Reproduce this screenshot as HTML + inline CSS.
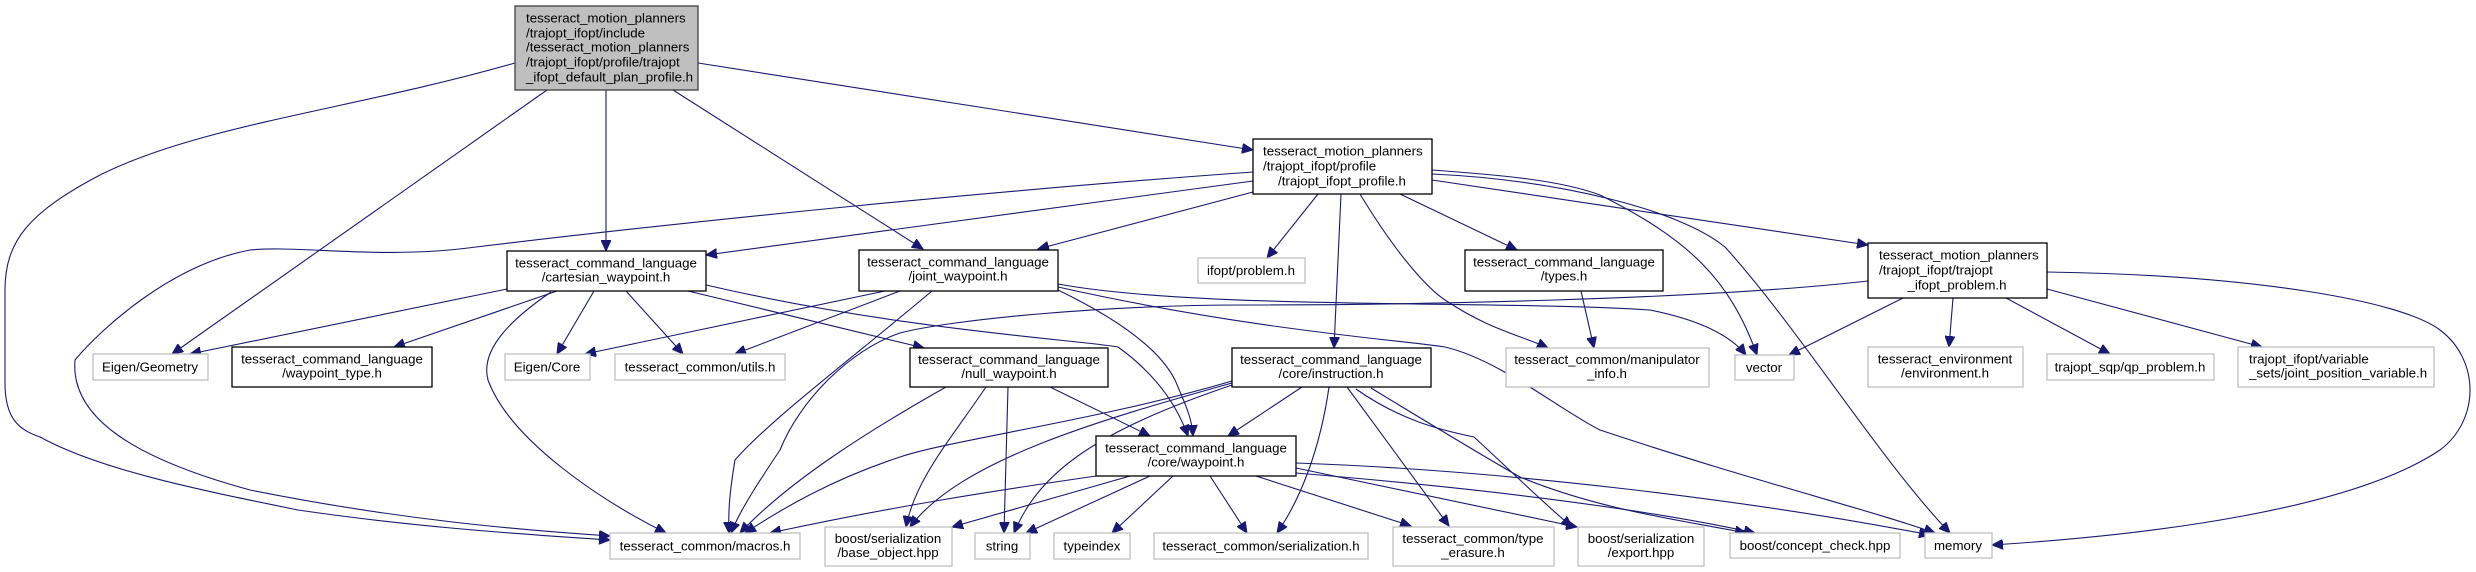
<!DOCTYPE html>
<html><head><meta charset="utf-8"><style>
html,body{margin:0;padding:0;background:#fff;}
svg{display:block;}
text{font-family:"Liberation Sans",sans-serif;font-size:13.3px;fill:#000;}
.e{fill:none;stroke:#191970;stroke-width:1.1;}
.g{fill:#fff;stroke:#bfbfbf;stroke-width:1.3;}
.b{fill:#fff;stroke:#000;stroke-width:1.3;}
</style></head><body>
<svg width="2476" height="572" viewBox="0 0 2476 572" xmlns="http://www.w3.org/2000/svg">
<defs><marker id="a" markerUnits="userSpaceOnUse" markerWidth="12" markerHeight="10" refX="11" refY="5" orient="auto"><path d="M0,0 L11,5 L0,10 z" fill="#191970" stroke="#191970"/></marker></defs>
<g marker-end="url(#a)">
<path class="e" d="M515,63 C350,110 200,125 100,175 C30,212 5,240 5,290 L5,383 C5,420 20,430 40,437 C100,470 200,490 298,510 C400,525 500,533 610,540"/>
<path class="e" d="M547,90 L172,354"/>
<path class="e" d="M606,90 L606,251"/>
<path class="e" d="M673,90 L923,249"/>
<path class="e" d="M698,63 L1253,150"/>
<path class="e" d="M1253,172 C1000,190 700,220 476,247 C380,260 300,245 250,250 C170,265 100,330 75,360 C70,420 140,460 250,490 C400,520 520,530 610,536"/>
<path class="e" d="M1253,181 L706,255"/>
<path class="e" d="M1253,192 L1038,249"/>
<path class="e" d="M1318,194 L1267,258"/>
<path class="e" d="M1341,194 L1334,348"/>
<path class="e" d="M1400,194 L1517,250"/>
<path class="e" d="M1360,194 C1400,260 1430,290 1445,300 C1490,330 1520,335 1548,348"/>
<path class="e" d="M1432,170 C1500,175 1560,180 1600,195 C1690,240 1730,280 1757,355"/>
<path class="e" d="M1432,174 C1560,180 1680,210 1725,247 C1800,330 1880,460 1950,533"/>
<path class="e" d="M1432,180 L1868,245"/>
<path class="e" d="M507,289 L190,354"/>
<path class="e" d="M557,291 L394,347"/>
<path class="e" d="M551,292 C510,320 480,350 488,380 C510,440 600,500 666,533"/>
<path class="e" d="M594,291 L557,354"/>
<path class="e" d="M626,291 L683,354"/>
<path class="e" d="M688,291 L924,348"/>
<path class="e" d="M706,285 C900,330 1080,340 1118,347 C1150,370 1175,400 1188,436"/>
<path class="e" d="M885,291 L585,354"/>
<path class="e" d="M900,291 L735,354"/>
<path class="e" d="M932,291 C850,360 770,420 735,460 C730,490 728,510 729,533"/>
<path class="e" d="M1058,290 C1120,320 1160,350 1175,380 C1188,410 1192,420 1193,436"/>
<path class="e" d="M1058,284 C1200,310 1500,300 1650,310 C1700,320 1730,335 1746,355"/>
<path class="e" d="M1058,287 C1250,330 1400,340 1445,347 C1500,360 1560,410 1600,430 C1750,480 1870,510 1935,533"/>
<path class="e" d="M1868,281 C1700,300 1400,305 1244,305 C1100,305 950,320 900,333 C850,350 800,400 780,450 C760,480 740,510 731,533"/>
<path class="e" d="M1903,298 L1789,355"/>
<path class="e" d="M1953,298 L1949,347"/>
<path class="e" d="M2006,298 L2110,354"/>
<path class="e" d="M2047,289 L2262,347"/>
<path class="e" d="M2047,272 C2250,275 2400,300 2440,330 C2480,360 2480,420 2440,450 C2350,510 2150,535 1992,545"/>
<path class="e" d="M1581,291 L1594,348"/>
<path class="e" d="M946,387 C870,430 790,480 740,533"/>
<path class="e" d="M986,387 C950,440 915,480 906,527"/>
<path class="e" d="M1008,387 L1004,533"/>
<path class="e" d="M1050,387 L1150,436"/>
<path class="e" d="M1232,381 C1100,420 950,440 900,457 C830,480 780,510 745,533"/>
<path class="e" d="M1232,383 C1100,420 960,460 910,527"/>
<path class="e" d="M1232,385 C1100,430 1040,470 1014,533"/>
<path class="e" d="M1302,387 L1228,436"/>
<path class="e" d="M1329,387 C1320,450 1300,500 1277,533"/>
<path class="e" d="M1347,387 L1449,526"/>
<path class="e" d="M1356,389 C1400,420 1440,430 1474,437 C1510,470 1540,500 1572,527"/>
<path class="e" d="M1371,388 C1440,430 1490,460 1520,477 C1600,510 1680,520 1746,533"/>
<path class="e" d="M1096,476 C1000,490 900,505 770,533"/>
<path class="e" d="M1130,476 L952,527"/>
<path class="e" d="M1150,476 L1026,533"/>
<path class="e" d="M1173,476 L1112,533"/>
<path class="e" d="M1210,476 L1247,533"/>
<path class="e" d="M1256,476 L1411,526"/>
<path class="e" d="M1296,468 L1577,527"/>
<path class="e" d="M1296,473 C1500,490 1650,510 1755,533"/>
<path class="e" d="M1296,463 C1500,470 1750,500 1930,535"/>
</g>
<rect x="515" y="6" width="183" height="84" fill="#bfbfbf" stroke="#404040" stroke-width="1.3"/>
<text x="526" y="22.5">tesseract_motion_planners</text>
<text x="526" y="37.5">/trajopt_ifopt/include</text>
<text x="526" y="51.5">/tesseract_motion_planners</text>
<text x="526" y="66.5">/trajopt_ifopt/profile/trajopt</text>
<text x="526" y="81.5">_ifopt_default_plan_profile.h</text>

<rect class="b" x="1253" y="139" width="179" height="55"/>
<text x="1263" y="155.5">tesseract_motion_planners</text>
<text x="1263" y="170.5">/trajopt_ifopt/profile</text>
<text x="1342" y="185.5" text-anchor="middle">/trajopt_ifopt_profile.h</text>

<rect class="b" x="1868" y="243" width="179" height="55"/>
<text x="1879" y="259.5">tesseract_motion_planners</text>
<text x="1879" y="274.5">/trajopt_ifopt/trajopt</text>
<text x="1957" y="289.5" text-anchor="middle">_ifopt_problem.h</text>

<g text-anchor="middle">
<rect class="b" x="507" y="251" width="199" height="40"/>
<text x="606" y="267.5">tesseract_command_language</text><text x="606" y="281.5">/cartesian_waypoint.h</text>
<rect class="b" x="859" y="250" width="199" height="41"/>
<text x="958" y="266.5">tesseract_command_language</text><text x="958" y="280.5">/joint_waypoint.h</text>
<rect class="g" x="1198" y="258" width="107" height="25"/>
<text x="1251" y="275">ifopt/problem.h</text>
<rect class="b" x="1465" y="250" width="198" height="41"/>
<text x="1564" y="266.5">tesseract_command_language</text><text x="1564" y="280.5">/types.h</text>

<rect class="g" x="93" y="354" width="115" height="26"/>
<text x="150" y="371.5">Eigen/Geometry</text>
<rect class="b" x="232" y="347" width="200" height="40"/>
<text x="332" y="363.5">tesseract_command_language</text><text x="332" y="377.5">/waypoint_type.h</text>
<rect class="g" x="505" y="354" width="85" height="26"/>
<text x="547" y="371.5">Eigen/Core</text>
<rect class="g" x="615" y="354" width="170" height="26"/>
<text x="700" y="371.5">tesseract_common/utils.h</text>
<rect class="b" x="910" y="348" width="198" height="39"/>
<text x="1009" y="364">tesseract_command_language</text><text x="1009" y="378">/null_waypoint.h</text>
<rect class="b" x="1232" y="348" width="199" height="39"/>
<text x="1331" y="364">tesseract_command_language</text><text x="1331" y="378">/core/instruction.h</text>
<rect class="g" x="1506" y="348" width="203" height="39"/>
<text x="1607" y="364">tesseract_common/manipulator</text><text x="1607" y="378">_info.h</text>
<rect class="g" x="1735" y="355" width="59" height="25"/>
<text x="1764" y="372">vector</text>
<rect class="g" x="1868" y="347" width="155" height="40"/>
<text x="1945" y="363.5">tesseract_environment</text><text x="1945" y="377.5">/environment.h</text>
<rect class="g" x="2047" y="354" width="167" height="26"/>
<text x="2130" y="371.5">trajopt_sqp/qp_problem.h</text>
<rect class="g" x="2238" y="347" width="196" height="40"/>
<text x="2249" y="363.5" text-anchor="start">trajopt_ifopt/variable</text><text x="2249" y="377.5" text-anchor="start">_sets/joint_position_variable.h</text>

<rect class="b" x="1096" y="436" width="200" height="40"/>
<text x="1196" y="452.5">tesseract_command_language</text><text x="1196" y="466.5">/core/waypoint.h</text>

<rect class="g" x="610" y="533" width="190" height="26"/>
<text x="705" y="550.5">tesseract_common/macros.h</text>
<rect class="g" x="825" y="527" width="127" height="39"/>
<text x="888" y="543">boost/serialization</text><text x="888" y="557">/base_object.hpp</text>
<rect class="g" x="975" y="533" width="55" height="26"/>
<text x="1002" y="550.5">string</text>
<rect class="g" x="1054" y="533" width="76" height="26"/>
<text x="1092" y="550.5">typeindex</text>
<rect class="g" x="1154" y="533" width="214" height="26"/>
<text x="1261" y="550.5">tesseract_common/serialization.h</text>
<rect class="g" x="1393" y="527" width="161" height="39"/>
<text x="1473" y="543">tesseract_common/type</text><text x="1473" y="557">_erasure.h</text>
<rect class="g" x="1578" y="527" width="126" height="39"/>
<text x="1641" y="543">boost/serialization</text><text x="1641" y="557">/export.hpp</text>
<rect class="g" x="1730" y="533" width="170" height="25"/>
<text x="1815" y="550">boost/concept_check.hpp</text>
<rect class="g" x="1925" y="533" width="67" height="25"/>
<text x="1958" y="550">memory</text>
</g>
</svg>
</body></html>
